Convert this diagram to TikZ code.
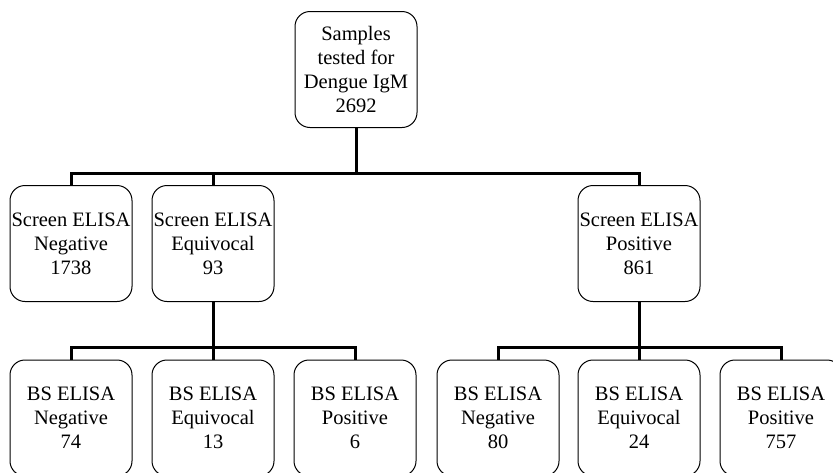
\documentclass[tikz,border=0pt]{standalone}
\usepackage{fontspec}
\setmainfont{Liberation Serif}
\usetikzlibrary{positioning}

\tikzset{
  box/.style={draw, rounded corners=15pt, minimum width=122pt, minimum height=116pt,
    inner sep=0pt, align=center, line width=1pt, font=\fontsize{20.5}{24}\selectfont},
  link/.style={draw, line width=3pt}
}

\begin{document}
\begin{tikzpicture}[x=1pt, y=-1pt]

    \clip (0,0) rectangle (833,472);

    \node[box] at (356, 69.5) (top) {Samples\\tested for\\Dengue IgM\\2692};

    \node[box] at ( 71, 243.5) (sneg) {Screen ELISA\\Negative\\1738};
    \node[box] at (213, 243.5) (sequ) {Screen ELISA\\Equivocal\\93};
    \node[box] at (639, 243.5) (spos) {Screen ELISA\\Positive\\861};

    \node[box] at ( 71, 418) (bneg1) {BS ELISA\\Negative\\74};
    \node[box] at (213, 418) (bequ1) {BS ELISA\\Equivocal\\13};
    \node[box] at (355, 418) (bpos1) {BS ELISA\\Positive\\6};
    \node[box] at (498, 418) (bneg2) {BS ELISA\\Negative\\80};
    \node[box] at (639, 418) (bequ2) {BS ELISA\\Equivocal\\24};
    \node[box] at (781, 418) (bpos2) {BS ELISA\\Positive\\757};

    \coordinate (j1) at (356, 173);
    \coordinate (j2) at (213, 347);
    \coordinate (j3) at (639, 347);

    \path[link] (top.south) -- (j1);
    \path[link] (j1) -| (sneg.north);
    \path[link] (j1) -| (spos.north);
    \path[link] (sequ.north) -- (sequ.north |- j1);

    \path[link] (sequ.south) -- (j2);
    \path[link] (j2) -| (bneg1.north);
    \path[link] (j2) -| (bpos1.north);
    \path[link] (j2) -- (bequ1.north);

    \path[link] (spos.south) -- (j3);
    \path[link] (j3) -| (bneg2.north);
    \path[link] (j3) -| (bpos2.north);
    \path[link] (j3) -- (bequ2.north);

\end{tikzpicture}
\end{document}
